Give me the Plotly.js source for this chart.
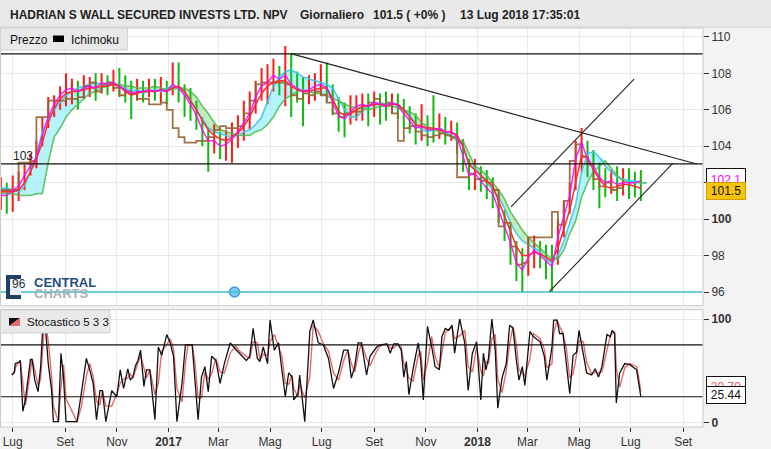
<!DOCTYPE html>
<html><head><meta charset="utf-8">
<script src="https://cdn.plot.ly/plotly-3.0.1.min.js"></script>
<style>html,body{margin:0;padding:0;background:#f3f3f3;}#chart{width:771px;height:449px;}</style>
</head><body><div id="chart"></div>
<script>
// ---------- DATA (weekly readings, first week 2016-06-17) ----------
const firstWeek = [2016, 5, 17];
const close = [101.5,101.3,101.6,101.9,102.4,103.0,103.6,104.8,105.8,106.3,
106.6,107.0,107.0,106.9,107.2,107.3,107.1,107.4,107.3,107.5,
107.2,107.0,106.9,107.1,107.0,107.2,107.0,107.2,107.0,107.5,
107.1,106.8,106.3,105.6,104.8,104.3,104.4,104.0,104.2,104.5,
104.9,105.4,105.8,106.8,107.4,107.6,107.9,107.7,108.0,107.3,
107.2,107.0,107.1,107.3,107.5,107.2,106.4,105.8,105.6,105.9,
106.2,106.3,106.2,106.4,106.3,106.2,106.4,106.3,105.8,105.5,
105.0,105.2,105.0,104.9,105.1,104.8,104.9,104.6,103.6,102.4,
102.6,102.1,101.8,101.5,100.6,99.6,98.8,97.7,97.3,98.0,
98.4,98.0,97.8,97.6,99.2,100.2,101.2,103.2,104.0,103.2,
102.8,102.2,102.0,102.1,101.8,102.0,101.9,101.8,101.5];
const high = [102.3,102.0,102.4,102.6,103.0,103.6,104.3,105.6,106.7,106.8,
107.3,108.0,107.7,107.6,107.9,107.8,108.0,108.0,107.9,108.2,
108.3,107.9,107.6,107.7,107.6,107.7,107.7,107.8,107.6,108.6,
108.6,107.4,107.2,106.5,105.6,105.0,105.2,104.8,104.9,105.3,
105.7,106.5,107.0,107.6,108.3,108.5,108.8,108.4,109.5,109.1,
108.1,107.8,107.9,108.0,108.5,108.6,107.4,106.7,106.4,106.8,
106.8,106.9,106.9,107.0,106.9,107.0,106.9,106.9,106.6,106.2,
105.8,106.3,105.7,106.8,105.8,105.6,105.4,105.3,104.4,103.3,
103.3,102.9,102.7,102.3,101.4,100.5,99.7,98.8,98.4,99.0,
99.1,98.8,98.6,98.6,100.0,101.0,102.0,104.3,105.0,104.3,
103.8,103.1,102.8,102.7,102.9,102.8,102.8,102.6,102.7];
const low = [100.5,100.3,100.4,101.0,101.6,102.4,102.8,104.0,105.0,105.6,
106.0,106.2,106.3,106.0,106.6,106.7,106.5,106.9,106.8,107.0,
106.7,106.4,105.5,106.5,106.4,106.7,106.5,106.4,106.3,106.8,
106.4,105.6,105.4,104.9,104.0,102.6,103.6,103.3,103.2,103.1,
103.9,104.3,104.9,105.8,106.5,106.3,107.0,106.8,106.2,105.6,
106.4,105.1,106.3,106.5,106.8,106.4,105.7,104.8,104.5,105.2,
105.4,105.4,105.1,105.6,105.2,105.4,105.8,105.5,105.0,104.7,
104.1,104.3,104.0,104.2,104.4,104.1,104.3,103.6,102.6,101.6,
101.6,101.5,101.1,100.6,99.8,98.8,97.5,96.6,96.0,96.9,
97.3,97.3,96.7,96.0,97.5,99.0,100.3,101.6,102.6,102.3,
101.6,100.6,101.2,101.4,101.0,101.3,101.1,101.2,101.0];
const redLine = [101.5,101.5,101.5,101.6,102.0,102.6,103.3,104.2,105.3,106.1,
106.6,106.9,107.0,107.0,107.1,107.2,107.2,107.3,107.3,107.4,
107.3,107.0,106.8,106.9,107.0,107.0,107.0,107.1,107.0,107.2,
107.3,107.0,106.5,106.0,105.4,104.9,104.6,104.4,104.3,104.5,
104.7,105.1,105.6,106.3,106.9,107.3,107.5,107.6,107.6,107.3,
107.1,107.0,107.0,107.1,107.2,107.2,106.6,105.9,105.7,105.8,
106.0,106.2,106.2,106.3,106.3,106.2,106.3,106.3,106.0,105.6,
105.2,105.1,105.0,105.0,104.9,104.8,104.8,104.6,104.0,103.0,
102.7,102.4,102.1,101.8,101.0,100.2,99.3,98.5,98.0,98.0,
98.2,98.1,97.9,97.7,98.4,99.4,100.5,102.0,103.5,103.4,
102.7,102.2,101.8,101.7,101.8,101.9,101.9,101.8,101.7];
const magentaLine = [101.3,101.3,101.6,101.8,102.4,102.9,103.4,104.6,105.6,106.3,
106.8,107.1,107.2,107.0,107.2,107.3,107.2,107.5,107.4,107.5,
107.3,107.1,106.9,107.0,107.0,107.1,107.0,107.1,107.0,107.4,
107.2,106.8,106.3,105.7,104.9,104.3,104.3,104.0,104.1,104.4,
104.8,105.3,105.8,106.7,107.3,107.5,107.9,107.7,107.9,107.4,
107.2,107.0,107.1,107.3,107.4,107.2,106.4,105.7,105.5,105.9,
106.2,106.3,106.2,106.4,106.3,106.2,106.4,106.2,105.8,105.4,
105.0,105.1,104.9,104.9,105.0,104.8,104.8,104.5,103.5,102.4,
102.5,102.1,101.7,101.4,100.5,99.5,98.7,97.6,97.2,97.9,
98.3,98.0,97.7,97.4,99.0,100.1,101.3,103.3,104.2,103.3,
102.9,102.3,102.0,102.1,101.9,102.0,102.0,102.0,102.1];
const brownLine = [101.6,101.6,101.6,103.1,103.1,103.2,105.6,105.6,106.5,106.5,
106.5,106.6,106.6,106.7,107.3,107.5,107.0,107.4,107.5,107.2,
106.8,107.0,106.9,106.6,106.6,106.3,106.3,106.4,106.0,105.0,
104.5,104.2,104.2,104.3,104.3,104.5,104.9,105.1,105.0,105.0,
105.1,105.8,106.5,107.4,107.5,107.5,107.5,107.5,107.4,106.8,
106.6,106.9,106.8,107.0,106.8,106.4,105.8,105.6,105.8,105.9,
105.9,106.2,106.4,106.6,106.3,106.4,105.8,104.3,105.0,105.1,
104.8,104.6,104.5,104.6,104.7,104.6,104.5,102.3,102.3,102.5,
102.2,102.1,102.0,101.6,99.6,99.8,98.5,97.5,97.6,99.0,
99.0,99.0,99.0,100.4,99.7,101.0,103.2,104.1,103.4,103.0,
102.2,101.8,102.0,101.6,101.7,101.5];
const spanA = [101.7,101.7,101.6,101.5,101.8,102.6,103.5,104.8,105.5,106.0,
106.4,106.8,107.0,107.2,107.3,107.4,107.5,107.4,107.5,107.5,
107.2,107.2,107.0,107.1,106.9,107.0,107.1,107.0,107.2,107.3,
107.2,106.9,106.5,106.0,105.5,105.0,104.8,104.7,104.6,104.5,
104.6,104.8,104.9,105.2,105.6,106.5,107.3,107.8,108.1,108.2,
108.0,107.8,107.7,107.6,107.5,107.4,107.2,106.6,106.0,105.6,
105.6,105.9,106.2,106.4,106.4,106.3,106.4,106.3,106.0,105.7,
105.2,104.9,104.8,104.9,105.0,104.8,104.6,104.4,104.0,103.0,
102.8,102.4,102.0,101.6,101.2,100.6,99.8,99.2,98.8,98.6,
98.4,98.2,97.8,97.6,98.0,98.8,99.8,100.8,102.6,103.6,
103.7,103.4,102.9,102.6,102.3,102.2,102.1,102.1,102.0,102.0];
const spanB = [101.4,101.4,101.4,101.3,101.3,101.3,101.4,101.4,103.1,104.5,
105.0,105.6,106.0,106.3,106.6,106.9,107.0,107.2,107.3,107.4,
107.4,107.3,107.3,107.2,107.2,107.2,107.3,107.2,107.1,107.1,
107.2,107.2,107.0,106.7,106.2,105.8,105.3,104.9,104.8,104.7,
104.6,104.6,104.6,104.8,104.9,105.2,105.6,106.2,106.6,106.8,
107.0,107.1,107.0,106.9,106.9,106.8,106.6,106.5,106.3,106.2,
106.1,106.1,106.0,106.1,106.2,106.2,106.2,106.1,106.0,105.9,
105.7,105.3,105.1,104.9,104.8,104.7,104.5,104.3,104.3,103.6,
102.9,102.7,102.4,102.0,101.6,101.1,100.4,99.9,99.4,99.0,
98.7,98.4,98.1,97.8,97.8,98.3,99.2,99.9,101.2,102.0,
102.6,102.9,103.2,102.8,102.4,102.1,102.0,102.0,102.0,102.0];
// stochastic 5 3 3 readings: day offsets from 2016-06-16
const stochStart = [2016, 5, 16];
const stochDays = [14,17,18,22,24,27,30,33,36,38,41,45,48,51,53,57,61,63,69,72,
75,78,91,96,102,106,110,114,118,121,125,132,138,142,146,151,154,157,160,163,
166,170,173,177,183,187,191,197,201,205,209,215,219,222,227,230,234,238,242,246,
250,255,260,265,272,278,283,291,295,299,304,307,311,316,319,324,329,333,337,341,
345,347,352,354,360,366,370,376,382,388,394,400,406,411,415,419,423,427,433,437,
445,449,457,461,465,470,474,477,480,483,488,494,497,500,505,510,514,519,522,526,
530,534,537,543,549,553,558,563,568,571,574,577,581,585,588,593,598,602,606,610,
613,617,620,626,630,638,643,646,652,654,658,661,665,669,673,677,681,684,689,693,
699,703,707,711,717,721,723,726,728,732,738,744,752,754,757];
const stochK = [46,49,57,58,60,11,22,44,61,61,41,30,54,100,100,57,31,1,1,67,
44,1,1,28,62,51,38,3,31,31,1,31,25,51,33,52,41,44,55,60,
70,35,51,51,3,73,65,85,77,64,1,38,75,75,75,44,3,44,54,30,
64,60,38,57,77,71,67,60,64,91,62,59,73,57,99,70,77,51,25,48,
44,22,28,46,1,88,99,77,75,62,33,49,70,70,43,54,77,77,46,64,
73,75,76,67,76,76,70,44,59,27,52,77,60,22,93,73,54,51,83,91,
89,94,67,100,77,31,67,78,22,67,51,62,100,70,14,43,57,94,91,60,
41,54,36,88,83,78,64,41,73,99,99,86,86,57,28,65,68,89,67,48,
46,52,44,54,85,83,89,86,19,48,57,56,51,41,25];
const stochD = [46,48,53,58,59,36,17,33,53,61,51,36,42,77,100,79,44,16,1,34,
56,23,1,15,45,57,45,21,17,31,16,16,28,38,42,43,47,43,50,58,
65,53,43,51,27,38,69,75,81,71,33,20,57,75,75,60,24,24,49,42,
47,62,49,48,67,74,69,64,62,78,77,61,66,65,78,85,74,64,38,37,
46,33,25,37,24,45,94,88,76,69,48,41,60,70,57,49,66,77,62,55,
69,74,76,72,72,76,73,57,52,43,40,65,69,41,58,83,64,53,67,87,
90,92,81,84,89,54,49,73,50,45,59,57,81,85,42,29,50,76,93,76,
51,48,45,62,86,81,71,53,57,86,99,93,86,72,43,47,67,79,78,58,
47,49,48,49,70,84,86,88,53,34,53,57,54,46,30];
const xTickDates = ['2016-07-01','2016-09-01','2016-11-01','2017-01-01','2017-03-01','2017-05-01','2017-07-01',
'2017-09-01','2017-11-01','2018-01-01','2018-03-01','2018-05-01','2018-07-01','2018-09-01'];
const xTickLabels = ['Lug','Set','Nov','<b>2017</b>','Mar','Mag','Lug','Set','Nov','<b>2018</b>','Mar','Mag','Lug','Set'];
const priceTicks = [96,98,100,102,104,106,108,110];
const priceTickLabels = ['96','98','<b>100</b>','102','104','106','108','110'];
const levels = [109.07, 103.03];
const supportLevel = 96;
const trendLines = [
  {x0:'2017-05-26 14:00', y0:109.07, x1:'2018-09-17', y1:103.03},
  {x0:'2018-02-09 14:00', y0:100.67, x1:'2018-07-05', y1:107.69},
  {x0:'2018-03-27', y0:96.02, x1:'2018-08-20', y1:103.08}
];
const handlePoint = {date:'2017-03-20', value:96};
const stochLevels = [75, 25];
const lastPrice = '101.5', lastSignal = '102.1', lastK = '25.44', lastD = '29.79';
const titleText = 'HADRIAN S WALL SECURED INVESTS LTD. NPV';

// ---------- helpers ----------
const W=771,H=449,ML=1,MR=68,MT=28,MB=22, PW=W-ML-MR, PH=H-MT-MB;
const fx = p => (p-ML)/PW;
const fy = p => (H-MB-p)/PH;
const DAY=86400000;
function iso(ms){return new Date(ms).toISOString().slice(0,16).replace('T',' ');}
const w0 = Date.UTC(...firstWeek);
const wk = i => iso(w0 + i*7*DAY);
const s0 = Date.UTC(...stochStart);
const FONT = 'Liberation Sans, Arial, sans-serif';

const priceDates = close.map((_,i)=>wk(i));
const cloudDates = spanA.map((_,i)=>wk(i));
const brownDates = brownLine.map((_,i)=>wk(i));
const stochDates = stochDays.map(d=>iso(s0+d*DAY));
const cloudTop = spanA.map((a,i)=>Math.max(a,spanB[i]));

// bars
const bx={up:[],dn:[]}, by={up:[],dn:[]};
close.forEach((c,i)=>{
  const k = (i===0 || c>=close[i-1]) ? 'up':'dn';
  bx[k].push(priceDates[i],priceDates[i],null);
  by[k].push(low[i],high[i],null);
});

const base = {type:'scatter', mode:'lines', hoverinfo:'skip', showlegend:false, xaxis:'x', yaxis:'y'};
const traces = [
  Object.assign({}, base, {x:cloudDates, y:spanB, line:{width:0}}),
  Object.assign({}, base, {x:cloudDates, y:cloudTop, line:{width:0}, fill:'tonexty', fillcolor:'rgba(120,235,245,0.55)'}),
  Object.assign({}, base, {x:cloudDates, y:spanA, line:{width:0}}),
  Object.assign({}, base, {x:cloudDates, y:cloudTop, line:{width:0}, fill:'tonexty', fillcolor:'rgba(130,220,130,0.5)'}),
  Object.assign({}, base, {x:bx.dn, y:by.dn, line:{color:'#12b812', width:2}}),
  Object.assign({}, base, {x:bx.up, y:by.up, line:{color:'#ff1a1a', width:2}}),
  Object.assign({}, base, {x:cloudDates, y:spanA, line:{color:'rgba(60,200,235,0.9)', width:1.6}}),
  Object.assign({}, base, {x:cloudDates, y:spanB, line:{color:'rgba(80,185,80,0.85)', width:1.6}}),
  Object.assign({}, base, {x:brownDates, y:brownLine, line:{color:'rgba(150,100,50,0.9)', width:1.8, shape:'hv'}}),
  Object.assign({}, base, {x:priceDates, y:redLine, line:{color:'#ff2a2a', width:1.5}}),
  Object.assign({}, base, {x:priceDates, y:magentaLine, line:{color:'rgba(255,0,255,0.85)', width:1.5}}),
  Object.assign({}, base, {x:[handlePoint.date], y:[handlePoint.value], mode:'markers',
     marker:{size:10, color:'#7ccaf2', line:{color:'#3b9fe0', width:1.5}}}),
  Object.assign({}, base, {x:stochDates, y:stochD, yaxis:'y2', line:{color:'#e36a6a', width:1.4}}),
  Object.assign({}, base, {x:stochDates, y:stochK, yaxis:'y2', line:{color:'#111', width:1.3}})
];

const shapes = [];
// header
shapes.push({type:'rect', xref:'paper', yref:'paper', x0:fx(0), x1:fx(W), y0:fy(0), y1:fy(27), fillcolor:'#e9e9e9', line:{width:0}, layer:'above'});
shapes.push({type:'line', xref:'paper', yref:'paper', x0:fx(0), x1:fx(W), y0:fy(27), y1:fy(27), line:{color:'#d0d0d0', width:1}, layer:'above'});
// year gridlines
['2017-01-01','2018-01-01'].forEach(d=>{
  shapes.push({type:'line', xref:'x', yref:'y', x0:d, x1:d, y0:95.2, y1:110.5, line:{color:'#cdcdcd', width:1}, layer:'below'});
  shapes.push({type:'line', xref:'x', yref:'y2', x0:d, x1:d, y0:-5, y1:110, line:{color:'#cdcdcd', width:1}, layer:'below'});
});
// horizontal levels
levels.forEach(v=>shapes.push({type:'line', xref:'paper', yref:'y', x0:0, x1:1, y0:v, y1:v, line:{color:'#111', width:1.2}, layer:'above'}));
shapes.push({type:'line', xref:'paper', yref:'y', x0:0, x1:1, y0:supportLevel, y1:supportLevel, line:{color:'#3fbfc4', width:1.4}, layer:'above'});
trendLines.forEach(t=>shapes.push({type:'line', xref:'x', yref:'y', x0:t.x0, y0:t.y0, x1:t.x1, y1:t.y1, line:{color:'#222', width:1.1}, layer:'above'}));
stochLevels.forEach(v=>shapes.push({type:'line', xref:'paper', yref:'y2', x0:0, x1:1, y0:v, y1:v, line:{color:'#111', width:1.2}, layer:'above'}));
// panel frames
shapes.push({type:'rect', xref:'paper', yref:'paper', x0:fx(0.5), x1:fx(703), y0:fy(305.7), y1:fy(28), line:{color:'#c9c9c9', width:1}, layer:'above'});
shapes.push({type:'rect', xref:'paper', yref:'paper', x0:fx(0.5), x1:fx(703), y0:fy(427), y1:fy(309.7), line:{color:'#c9c9c9', width:1}, layer:'above'});
// legend boxes
shapes.push({type:'rect', xref:'paper', yref:'paper', x0:fx(0.5), x1:fx(127.5), y0:fy(50), y1:fy(28), fillcolor:'#e8e8e8', line:{color:'#d2d2d2', width:1}, layer:'above'});
shapes.push({type:'rect', xref:'paper', yref:'paper', x0:fx(53), x1:fx(64), y0:fy(42), y1:fy(35.5), fillcolor:'#000', line:{width:0}, layer:'above'});
shapes.push({type:'rect', xref:'paper', yref:'paper', x0:fx(0.5), x1:fx(110), y0:fy(333), y1:fy(310), fillcolor:'#e9e9e9', line:{color:'#cfcfcf', width:1}, layer:'above'});
shapes.push({type:'path', xref:'paper', yref:'paper', path:`M ${fx(9)} ${fy(318)} L ${fx(20)} ${fy(318)} L ${fx(9)} ${fy(326)} Z`, fillcolor:'#111', line:{width:0}, layer:'above'});
shapes.push({type:'path', xref:'paper', yref:'paper', path:`M ${fx(20)} ${fy(318)} L ${fx(20)} ${fy(326)} L ${fx(9)} ${fy(326)} Z`, fillcolor:'#e36a6a', line:{width:0}, layer:'above'});
// logo icon
shapes.push({type:'rect', xref:'paper', yref:'paper', x0:fx(6), x1:fx(21), y0:fy(299), y1:fy(275), fillcolor:'#1f3f66', line:{width:0}, layer:'above'});
shapes.push({type:'rect', xref:'paper', yref:'paper', x0:fx(10), x1:fx(21), y0:fy(295), y1:fy(279), fillcolor:'#e8eef5', line:{width:0}, layer:'above'});

const ann = [];
const A = (o)=>ann.push(Object.assign({xref:'paper', yref:'paper', showarrow:false, xanchor:'left', yanchor:'middle', font:{family:FONT, size:12, color:'#222'}}, o));
A({text:'<b>'+titleText+'</b>', x:fx(8), y:fy(15)});
A({text:'<b>Giornaliero</b>', x:fx(298), y:fy(15)});
A({text:'<b>'+lastPrice+' ( +0% )</b>', x:fx(370.5), y:fy(15)});
A({text:'<b>13 Lug 2018 17:35:01</b>', x:fx(457.5), y:fy(15)});
A({text:'Prezzo', x:fx(7.5), y:fy(39.5), font:{family:FONT, size:12, color:'#111'}});
A({text:'Ichimoku', x:fx(69), y:fy(39.5), font:{family:FONT, size:12, color:'#111'}});
A({text:'Stocastico 5 3 3', x:fx(25), y:fy(322), font:{family:FONT, size:11.5, color:'#111'}});
A({text:'103', x:fx(10.5), y:fy(156), font:{family:FONT, size:12, color:'#222'}});
A({text:'<b>CENTRAL</b>', x:fx(32), y:fy(282), font:{family:FONT, size:13, color:'#1f4e7c'}});
A({text:'<b>CHARTS</b>', x:fx(32), y:fy(293.5), font:{family:FONT, size:13, color:'#a7b1b9'}});
A({text:'96', x:fx(10), y:fy(284), font:{family:FONT, size:12, color:'#333'}});
// last-value boxes
A({text:lastSignal, x:fx(726), xanchor:'center', y:fy(180), width:38, height:22, borderpad:0, bgcolor:'#fff', bordercolor:'#111', borderwidth:1, font:{family:FONT, size:12, color:'#ff00ff'}});
A({text:lastPrice, x:fx(726), xanchor:'center', y:fy(191), width:38, height:16, borderpad:0, bgcolor:'#f6c40c', bordercolor:'#d39e00', borderwidth:1, font:{family:FONT, size:12, color:'#111'}});
A({text:lastD, x:fx(726), xanchor:'center', y:fy(387), width:38, height:20, borderpad:0, bgcolor:'#fff', bordercolor:'#111', borderwidth:1, font:{family:FONT, size:12, color:'#e36a6a'}});
A({text:lastK, x:fx(726), xanchor:'center', y:fy(395), width:38, height:16, borderpad:0, bgcolor:'#fff', bordercolor:'#111', borderwidth:1, font:{family:FONT, size:12, color:'#111'}});

const layout = {
  width:W, height:H, margin:{l:ML, r:MR, t:MT, b:MB, pad:0},
  paper_bgcolor:'#f3f3f3', plot_bgcolor:'#ffffff', showlegend:false,
  font:{family:FONT, size:12, color:'#333'},
  xaxis:{type:'date', anchor:'y2', range:['2016-06-17 04:20','2018-09-24 10:00'],
    tickmode:'array', tickvals:xTickDates, ticktext:xTickLabels, ticks:'outside', ticklen:4, tickcolor:'#333',
    tickfont:{family:FONT, size:12, color:'#333'}, showgrid:true, gridcolor:'#e9e9e9', zeroline:false, showline:false, fixedrange:true},
  yaxis:{domain:[fy(305.7),1], range:[95.25,110.49], side:'right', tickmode:'array', tickvals:priceTicks, ticktext:priceTickLabels,
    ticks:'outside', ticklen:5, tickcolor:'#333', tickfont:{family:FONT, size:12, color:'#333'},
    showgrid:true, gridcolor:'#e9e9e9', zeroline:false, showline:false, fixedrange:true},
  yaxis2:{domain:[0,fy(309.7)], range:[-4.15,108.97], side:'right', tickmode:'array', tickvals:[0,100], ticktext:['<b>0</b>','<b>100</b>'],
    ticks:'outside', ticklen:5, tickcolor:'#333', tickfont:{family:FONT, size:12, color:'#333'},
    showgrid:true, gridcolor:'#e9e9e9', zeroline:false, showline:false, fixedrange:true},
  shapes:shapes, annotations:ann
};
Plotly.newPlot('chart', traces, layout, {staticPlot:true, displayModeBar:false});
</script></body></html>
